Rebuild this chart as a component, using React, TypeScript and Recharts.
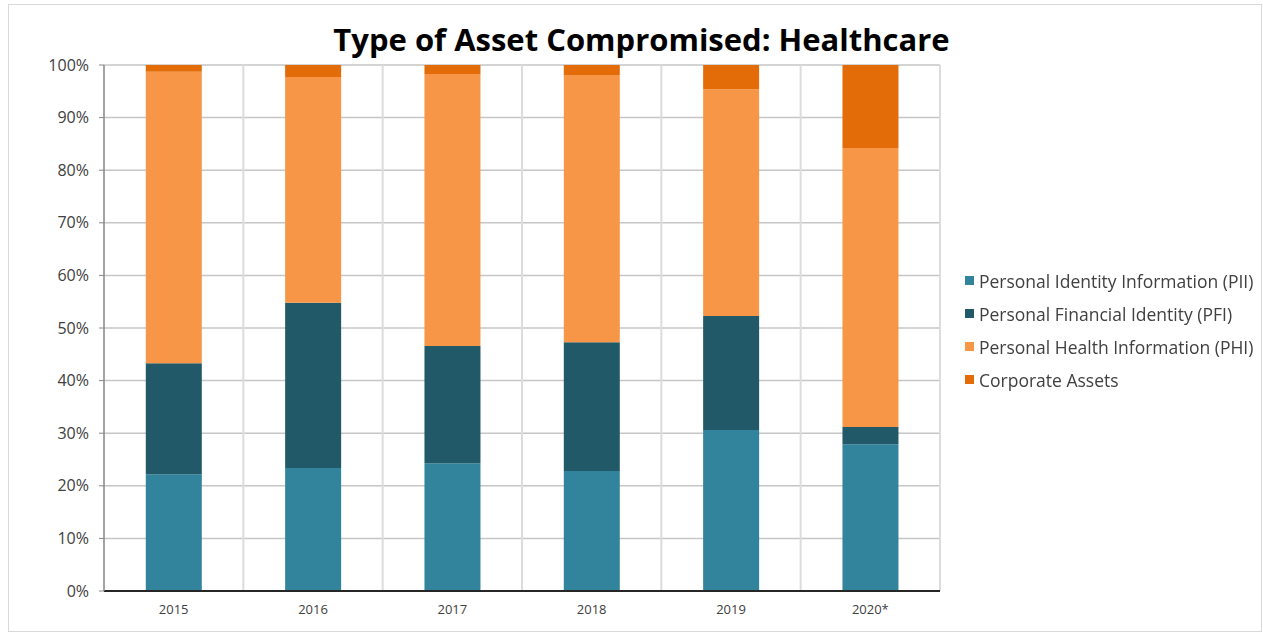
import React from "react";
import { Bar, BarChart, CartesianGrid, Legend, XAxis, YAxis } from "recharts";

const years = ["2015", "2016", "2017", "2018", "2019", "2020*"];
const pii = [22.2, 23.4, 24.3, 22.8, 30.6, 27.9];
const pfi = [21.1, 31.4, 22.3, 24.5, 21.7, 3.3];
const phi = [55.4, 42.9, 51.7, 50.8, 43.1, 53.0];
const corporate = [1.3, 2.3, 1.7, 1.9, 4.6, 15.8];
const seriesNames = [
  "Personal Identity Information (PII)",
  "Personal Financial Identity (PFI)",
  "Personal Health Information (PHI)",
  "Corporate Assets",
];
const yTicks = [0, 10, 20, 30, 40, 50, 60, 70, 80, 90, 100];

const data = years.map((year, i) => ({
  year,
  pii: pii[i],
  pfi: pfi[i],
  phi: phi[i],
  corporate: corporate[i],
}));

const FONT = "'Open Sans', 'DejaVu Sans', sans-serif";

const LegendList = ({ payload }: any) => {
  const items = [...(payload || [])].sort(
    (a: any, b: any) => seriesNames.indexOf(a.value) - seriesNames.indexOf(b.value)
  );
  return (
    <div style={{ fontFamily: FONT, fontSize: 17.5, color: "#404040" }}>
      {items.map((item: any) => (
        <div key={item.value} style={{ display: "flex", alignItems: "center", height: 33, whiteSpace: "nowrap" }}>
          <span style={{ width: 9, height: 9, background: item.color, marginRight: 5, display: "inline-block" }} />
          {item.value}
        </div>
      ))}
    </div>
  );
};

export default function App() {
  return (
    <div style={{ position: "fixed", left: 0, top: 0, width: 1263, height: 636, background: "#fff" }}>
      <div style={{ position: "absolute", left: 8, top: 4, width: 1254, height: 628, border: "1px solid #d9d9d9", boxSizing: "border-box" }} />
      <div
        style={{
          position: "absolute",
          left: 0,
          width: 1283,
          top: 18,
          textAlign: "center",
          fontFamily: FONT,
          fontWeight: 700,
          fontSize: 31,
          color: "#000",
        }}
      >
        Type of Asset Compromised: Healthcare
      </div>
      <BarChart
        width={1263}
        height={636}
        data={data}
        margin={{ top: 65, right: 23, left: 44, bottom: 15 }}
        barCategoryGap="30%"
        style={{ position: "absolute", left: 0, top: 0 }}
      >
        <CartesianGrid vertical={false} stroke="#c6c6c6" strokeWidth={1.5} />
        <CartesianGrid
          horizontal={false}
          stroke="#dcdcdc"
          strokeWidth={2}
          verticalCoordinatesGenerator={({ offset }: any) =>
            years.map((_, i) => offset.left + ((i + 1) * offset.width) / years.length)
          }
        />
        <XAxis
          dataKey="year"
          height={30}
          tickLine={false}
          axisLine={{ stroke: "#262626", strokeWidth: 2 }}
          tick={{ fontSize: 13, fill: "#404040", fontFamily: FONT }}
          tickMargin={8}
        />
        <YAxis
          width={60}
          domain={[0, 100]}
          ticks={yTicks}
          tickFormatter={(v) => `${v}%`}
          axisLine={{ stroke: "#868686", strokeWidth: 1.5 }}
          tickLine={{ stroke: "#868686" }}
          tickSize={5}
          tickMargin={10}
          tick={{ fontSize: 16, fill: "#404040", fontFamily: FONT }}
          allowDataOverflow
        />
        <Legend
          layout="vertical"
          align="right"
          verticalAlign="top"
          content={<LegendList />}
          wrapperStyle={{ left: 965, top: 264, width: 300 }}
        />
        <Bar dataKey="pii" name={seriesNames[0]} stackId="a" fill="#31849b" isAnimationActive={false} />
        <Bar dataKey="pfi" name={seriesNames[1]} stackId="a" fill="#215968" isAnimationActive={false} />
        <Bar dataKey="phi" name={seriesNames[2]} stackId="a" fill="#f79646" isAnimationActive={false} />
        <Bar dataKey="corporate" name={seriesNames[3]} stackId="a" fill="#e36c09" isAnimationActive={false} />
      </BarChart>
    </div>
  );
}
